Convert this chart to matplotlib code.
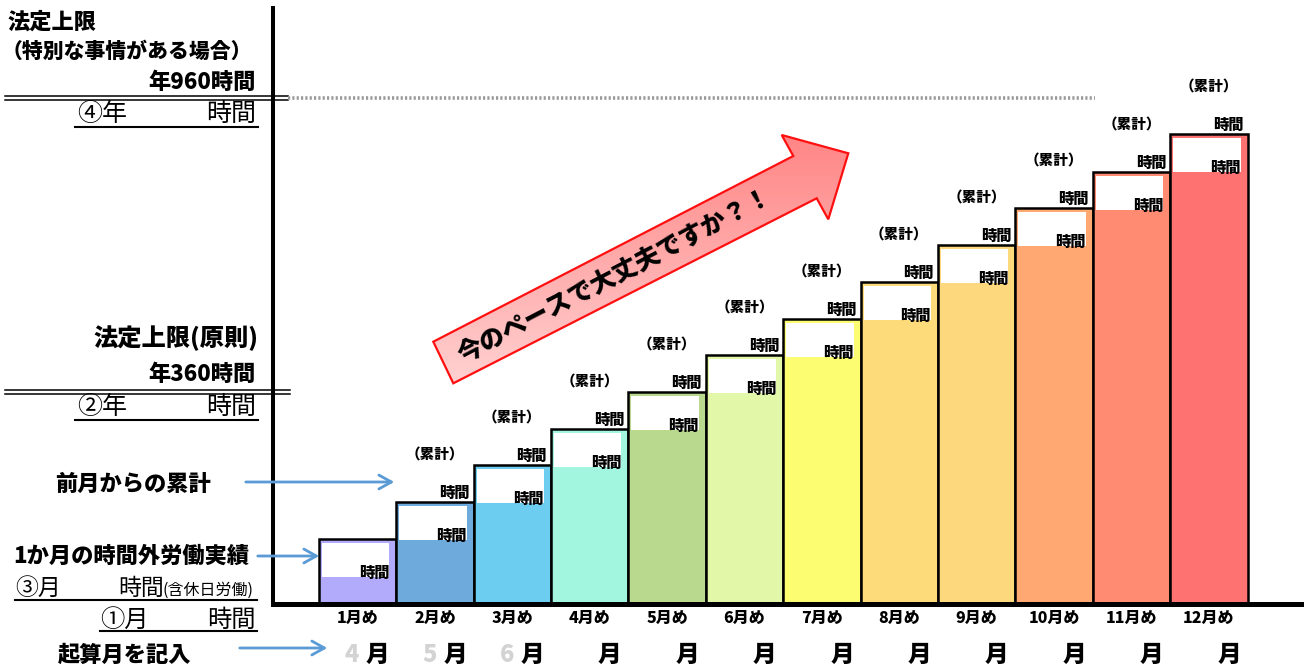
import matplotlib
matplotlib.use("Agg")
import matplotlib.pyplot as plt
import matplotlib.transforms as mtransforms
from matplotlib.patches import Polygon, FancyArrowPatch
import numpy as np

plt.rcParams['font.family'] = ['Noto Sans CJK JP', 'DejaVu Sans']
HW = "heavy"

# ---- data ----
month_labels = ["1月め", "2月め", "3月め", "4月め", "5月め", "6月め",
                "7月め", "8月め", "9月め", "10月め", "11月め", "12月め"]
start_months = ["4", "5", "6", "", "", "", "", "", "", "", "", ""]
cumulative = [65, 102, 139, 175, 212, 249, 285, 322, 359, 396, 432, 470]
bar_colors = ["#b2aafa", "#6eaadb", "#6ccdf0", "#a2f5df", "#b9d98e", "#e2f7a8",
              "#fdfd72", "#fedb7a", "#fed87c", "#ffa872", "#ff8c72", "#ff7272"]

W, H = 1304, 667
fig = plt.figure(figsize=(W / 100, H / 100), dpi=100)

# main bar axes
ax = fig.add_axes([273 / W, 63 / H, 1031 / W, 596 / H])
x = np.arange(len(cumulative))
ax.set_xlim(-1.092, 12.229)
ax.set_ylim(0, 596)
ax.bar(x, cumulative, width=1.0, color=bar_colors, edgecolor="black",
       linewidth=1.8, zorder=2)
unit = 77.4  # px per bar
heights = np.array(cumulative)
# white input boxes
ax.bar(x + (3 - 7) / 2 / unit, 34, bottom=heights - 38,
       width=(unit - 10) / unit, color="white", linewidth=0, zorder=3)
for i, h in enumerate(cumulative):
    ax.text(i + 0.5 - 7 / unit, h - 34, "時間", ha="right", va="center",
            fontsize=11, fontweight=HW, zorder=4)
    if i > 0:
        ax.text(i + 0.5 - 4 / unit, h + 9, "時間", ha="right", va="center",
                fontsize=11, fontweight=HW, zorder=4)
        ax.text(i, h + 47, "（累計）", ha="center", va="center",
                fontsize=10.5, fontweight=HW, zorder=4)

for s in ["top", "right"]:
    ax.spines[s].set_visible(False)
ax.spines["left"].set_linewidth(2.9)
ax.spines["bottom"].set_linewidth(3.6)
ax.set_yticks([])
ax.set_xticks(x)
ax.set_xticklabels(month_labels, fontsize=11.5, fontweight=HW, style="italic")
ax.tick_params(axis="x", length=0, pad=5)
ax.patch.set_alpha(0)

# overlay axes in pixel coordinates
ov = fig.add_axes([0, 0, 1, 1], zorder=5)
ov.set_xlim(0, W)
ov.set_ylim(H, 0)
ov.axis("off")
ov.patch.set_alpha(0)

blend = mtransforms.blended_transform_factory(ax.transData, ov.transData)
for i, m in enumerate(start_months):
    if m:
        ov.text(i - 0.07, 655, m, transform=blend, ha="center", va="center",
                fontsize=17, fontweight=HW, color="#d3d3d3")
    ov.text(i + 0.26, 655, "月", transform=blend, ha="center", va="center",
            fontsize=17, fontweight=HW, color="black")

# left texts
ov.text(8, 22, "法定上限", ha="left", va="center", fontsize=16, fontweight=HW)
ov.text(2, 52, "（特別な事情がある場合）", ha="left", va="center", fontsize=15, fontweight=HW)
ov.text(256, 82, "年960時間", ha="right", va="center", fontsize=16, fontweight=HW)
for yy in (96, 99.5):
    ov.plot([5, 288], [yy, yy], color="black", lw=1.1)
ov.plot([288, 1095], [97.5, 97.5], color="#9a9a9a", lw=2.6, dashes=(0.6, 0.6))
ov.text(77, 114, "④年", ha="left", va="center", fontsize=18)
ov.text(256, 114, "時間", ha="right", va="center", fontsize=18)
ov.plot([75, 258], [127, 127], color="black", lw=1.5)

ov.text(258, 338, "法定上限(原則)", ha="right", va="center", fontsize=17.5, fontweight=HW)
ov.text(256, 374, "年360時間", ha="right", va="center", fontsize=16, fontweight=HW)
for yy in (390, 393.5):
    ov.plot([5, 290], [yy, yy], color="black", lw=1.1)
ov.text(77, 407, "②年", ha="left", va="center", fontsize=18)
ov.text(256, 407, "時間", ha="right", va="center", fontsize=18)
ov.plot([75, 258], [420, 420], color="black", lw=1.5)

ov.text(55, 484, "前月からの累計", ha="left", va="center", fontsize=16, fontweight=HW)
ov.text(13, 556, "1か月の時間外労働実績", ha="left", va="center", fontsize=16, fontweight=HW)
ov.text(15, 588, "③月", ha="left", va="center", fontsize=16.5)
ov.text(118, 588, "時間", ha="left", va="center", fontsize=16.5)
ov.text(163, 590, "(含休日労働)", ha="left", va="center", fontsize=11.5)
ov.plot([15, 257], [600, 600], color="black", lw=1.5)
ov.text(100, 620, "①月", ha="left", va="center", fontsize=17.5)
ov.text(256, 620, "時間", ha="right", va="center", fontsize=17.5)
ov.plot([100, 257], [631, 631], color="black", lw=1.5)
ov.text(58, 655, "起算月を記入", ha="left", va="center", fontsize=16, fontweight=HW)

# blue pointer arrows
for (x0, x1, yy) in [(243, 397, 482), (255, 322, 556), (237, 330, 648)]:
    ov.add_patch(FancyArrowPatch((x0, yy), (x1, yy), arrowstyle="->,head_length=9,head_width=5",
                                 color="#5b9bd5", lw=2.0, mutation_scale=1))

# big red arrow
pts = [(433.3, 341.7), (793.3, 156), (781.7, 135), (848.3, 153.3),
       (828.3, 219.3), (816.7, 198.3), (453.3, 383.3)]
poly = Polygon(pts, closed=True, facecolor="none", edgecolor="#ff1010", lw=1.6, zorder=3)
ov.add_patch(poly)
grad = np.linspace(0, 1, 256).reshape(-1, 1)
c_top = np.array([1.0, 0.52, 0.52])
c_bot = np.array([1.0, 0.82, 0.82])
img = c_top[None, None, :] * (1 - grad[..., None]) + c_bot[None, None, :] * grad[..., None]
im = ov.imshow(img, extent=(430, 850, 385, 133), aspect="auto", zorder=2,
               interpolation="bilinear")
clip = Polygon(pts, closed=True, transform=ov.transData, facecolor="none")
im.set_clip_path(clip)
ov.set_xlim(0, W)
ov.set_ylim(H, 0)
ov.text(615, 276, "今のペースで大丈夫ですか？！", rotation=27.5, rotation_mode="anchor",
        ha="center", va="center", fontsize=18, fontweight=HW, zorder=4)

fig.savefig("out.png", dpi=100)
